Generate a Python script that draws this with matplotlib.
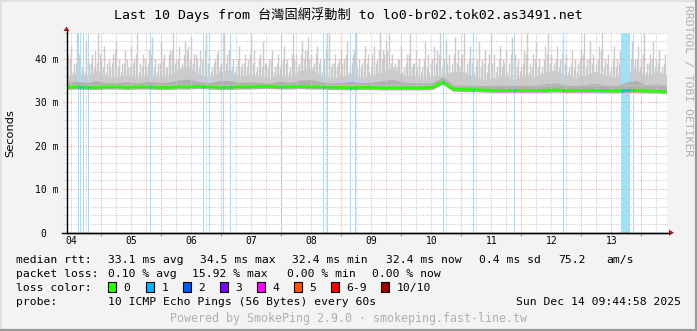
import numpy as np
import matplotlib
matplotlib.use('Agg')
import matplotlib.pyplot as plt
from matplotlib.patches import Rectangle, Polygon
from matplotlib.lines import Line2D

W, H, DPI = 697, 331, 100
MONO = 'DejaVu Sans Mono'

# ---------------- data ----------------
t_start, t_end = 4.42, 14.42          # day of month (Dec), 10 days
day_labels = ['04', '05', '06', '07', '08', '09', '10', '11', '12', '13']
day_label_pos = [4.5, 5.5, 6.5, 7.5, 8.5, 9.5, 10.5, 11.5, 12.5, 13.5]
y_ticks = [0, 10, 20, 30, 40]
y_tick_labels = ['0\u00a0\u00a0', '10 m', '20 m', '30 m', '40 m']

# median rtt (ms), evenly spaced across the window
median_rtt = [33.4, 33.5, 33.4, 33.4, 33.5, 33.5, 33.4, 33.5, 33.5, 33.4,
              33.4, 33.5, 33.5, 33.6, 33.5, 33.4, 33.4, 33.5, 33.5, 33.6,
              33.6, 33.5, 33.5, 33.6, 33.5, 33.5, 33.4, 33.4, 33.3, 33.4,
              33.4, 33.3, 33.3, 33.3, 33.3, 33.3, 33.4, 34.6, 33.0, 32.9,
              32.9, 32.8, 32.7, 32.7, 32.7, 32.7, 32.7, 32.7, 32.8, 32.7,
              32.7, 32.7, 32.7, 32.6, 32.6, 32.7, 32.7, 32.6, 32.5, 32.4]
# darker smoke (inner pings) upper edge
dark_top = [34.5, 34.8, 34.5, 34.9, 34.4, 34.5, 34.7, 34.4, 34.8, 34.5,
            34.6, 35.1, 35.3, 34.7, 34.5, 34.9, 35.0, 34.5, 34.7, 34.5,
            34.4, 34.8, 34.5, 35.1, 35.2, 34.7, 34.4, 34.5, 34.8, 34.4,
            34.6, 34.9, 35.3, 34.6, 34.5, 34.4, 34.5, 35.8, 34.1, 34.0,
            33.9, 33.8, 33.9, 34.0, 33.8, 34.0, 33.9, 34.2, 34.4, 34.0,
            33.8, 34.0, 34.3, 33.9, 33.8, 34.6, 35.0, 34.0, 34.2, 33.9]
# dense light smoke upper edge
body_top = [35.8, 36.8, 36.1, 37.3, 35.5, 35.8, 36.3, 35.5, 36.5, 35.6,
            36.1, 37.5, 38.3, 36.5, 35.8, 36.9, 37.6, 35.8, 36.5, 35.9,
            35.5, 36.5, 35.6, 37.3, 37.7, 36.2, 35.5, 35.9, 36.6, 35.5,
            36.1, 36.9, 38.1, 36.3, 35.9, 35.5, 35.8, 36.3, 37.1, 36.9,
            36.1, 35.2, 35.5, 36.1, 35.3, 36.0, 35.6, 36.8, 37.5, 36.3,
            35.6, 36.1, 37.1, 36.1, 35.6, 36.9, 37.3, 36.1, 37.1, 36.3]
# max ping spikes
spike_top = [41, 43, 39, 46, 40, 38, 44, 39, 41, 42,
             46, 40, 43, 39, 38, 41, 44, 40, 39, 42,
             38, 43, 40, 46, 39, 41, 38, 42, 45, 40,
             39, 44, 41, 38, 42, 46, 40, 43, 39, 44,
             43, 45, 41, 40, 42, 39, 46, 41, 38, 40,
             42, 39, 46, 41, 44, 40, 38, 43, 39, 41,
             40, 46, 42, 38, 41, 44, 39, 40, 42, 38,
             41, 39, 43, 40, 38, 46, 41, 39, 44, 42,
             45, 41, 39, 43, 40, 38, 42, 46, 39, 41,
             39, 42, 40, 44, 38, 41, 46, 40, 39, 43,
             41, 38, 43, 40, 46, 42, 44, 46, 41, 39,
             40, 43, 38, 41, 46, 39, 42, 40, 38, 44,
             41, 39, 43, 42, 46, 40, 44, 41, 39, 45,
             42, 40, 46, 39, 43, 41, 38, 44, 40, 42,
             39, 46, 41, 38, 43, 40, 42, 39, 45, 41,
             40, 38, 42, 46, 39, 41, 44, 40, 38, 43,
             46, 41, 39, 43, 40, 45, 41, 38, 42, 40,
             39, 42, 46, 40, 44, 41, 39, 43, 46, 40,
             41, 38, 43, 40, 42, 39, 46, 41, 44, 40,
             43, 40, 46, 39, 41, 44, 40, 42, 38, 41]
# second-highest ping spikes (between the max spikes)
p9_top = [38, 40, 37, 39, 41, 38, 37, 40, 39, 38,
          39, 41, 38, 37, 40, 39, 42, 38, 37, 39,
          40, 38, 39, 41, 37, 38, 40, 39, 41, 38,
          37, 39, 40, 38, 41, 42, 39, 40, 38, 41,
          42, 40, 39, 41, 38, 40, 42, 39, 37, 39,
          41, 38, 40, 39, 42, 38, 37, 40, 38, 39,
          38, 41, 39, 37, 40, 38, 39, 38, 40, 37,
          39, 38, 40, 39, 37, 41, 40, 38, 41, 40,
          42, 40, 38, 41, 39, 37, 40, 42, 38, 39,
          38, 40, 39, 41, 37, 39, 42, 38, 38, 40,
          39, 37, 41, 39, 42, 40, 41, 42, 39, 38,
          38, 40, 37, 39, 41, 38, 39, 38, 37, 40,
          38, 37, 40, 39, 41, 38, 40, 39, 37, 41,
          39, 38, 41, 37, 40, 39, 37, 40, 38, 39,
          37, 41, 39, 37, 40, 38, 39, 37, 41, 39,
          38, 37, 39, 41, 37, 38, 40, 38, 37, 40,
          41, 39, 37, 40, 38, 41, 39, 37, 39, 38,
          37, 40, 41, 38, 40, 39, 37, 40, 42, 38,
          39, 37, 40, 38, 39, 37, 41, 39, 40, 38,
          40, 38, 41, 37, 39, 40, 38, 39, 37, 39]
# times (day of month) with 1/10 packet loss
loss_times = [4.617, 4.650, 4.700, 4.783, 5.817, 6.707, 6.795, 7.033, 7.150,
              8.000, 8.700, 8.778, 9.150, 9.240, 10.700, 11.200, 11.883, 12.700,
              13.675, 13.692, 13.708, 13.725, 13.742, 13.758, 13.775, 13.792,
              13.808, 13.867]

median_stats = ['33.1 ms avg', '34.5 ms max', '32.4 ms min', '32.4 ms now', '0.4 ms sd', '75.2', 'am/s']
loss_stats = ['0.10 % avg', '15.92 % max', '0.00 % min', '0.00 % now']
loss_labels = ['0', '1', '2', '3', '4', '5', '6-9', '10/10']
loss_colors = ['#26ff00', '#00b8ff', '#0059ff', '#7e00ff', '#ff00ff', '#ff5500', '#ff0000', '#a10000']
title = 'Last 10 Days from 台灣固網浮動制 to lo0-br02.tok02.as3491.net'
probe_text = '10 ICMP Echo Pings (56 Bytes) every 60s'
date_text = 'Sun Dec 14 09:44:58 2025'
footer = 'Powered by SmokePing 2.9.0 \u00b7 smokeping.fast-line.tw'
watermark = 'RRDTOOL / TOBI OETIKER'

# ---------------- figure ----------------
def P(x, y):
    return (x / W, 1 - y / H)

fig = plt.figure(figsize=(W / DPI, H / DPI), dpi=DPI, facecolor='#f3f3f3')
ax_l, ax_r, ax_t, ax_b = 66.5, 666.5, 32.5, 232.7
ax = fig.add_axes([ax_l / W, 1 - ax_b / H, (ax_r - ax_l) / W, (ax_b - ax_t) / H])
ax.set_facecolor('white')
ymax = 46
ax.set_xlim(t_start, t_end)
ax.set_ylim(0, ymax)

n = len(median_rtt)
t_med = np.linspace(t_start, t_end, n)
med = np.array(median_rtt)

LIGHT = '#cbcbcb'
ax.fill_between(t_med, med - 0.3, body_top, color=LIGHT, lw=0, zorder=1)
step = (t_end - t_start) / len(spike_top)
t_sp = t_start + (np.arange(len(spike_top)) + 0.5) * step
ax.vlines(t_sp, np.interp(t_sp, t_med, med), spike_top, color=LIGHT, lw=1.0, zorder=1)
t_p9 = t_start + np.arange(len(p9_top)) * (t_end - t_start) / len(p9_top)
ax.vlines(t_p9, np.interp(t_p9, t_med, med), p9_top, color=LIGHT, lw=1.0, zorder=1)

ax.bar(loss_times, ymax, width=1 / 60, bottom=0, color='#a0e2fc', lw=0, zorder=2)

ax.fill_between(t_med, med - 0.5, dark_top, color='#b0b0b0', lw=0, zorder=3)

# grid
MINC, MAJC = '#cdcdcd', '#e3aaaa'
for y in range(2, ymax + 1, 2):
    c = MAJC if y % 10 == 0 else MINC
    ax.hlines(y, -0.006, 1, transform=ax.get_yaxis_transform(), colors=c,
              lw=0.8, linestyles=(0, (1, 1.2)), zorder=4, clip_on=False)
for d in np.arange(np.ceil(t_start * 4) / 4, t_end, 0.25):
    if abs(d - round(d)) < 1e-6:
        ax.vlines(d, 0, 1, transform=ax.get_xaxis_transform(), colors=MAJC,
                  lw=0.8, linestyles=(0, (1, 1.2)), zorder=4)
        ax.vlines(d, -0.018, 0, transform=ax.get_xaxis_transform(), colors='#d08888',
                  lw=0.8, zorder=4, clip_on=False)
    else:
        ax.vlines(d, 0, 1, transform=ax.get_xaxis_transform(), colors=MINC,
                  lw=0.8, linestyles=(0, (1, 1.2)), zorder=4)

ax.plot(t_med, med, color='#26ff00', lw=2.0, zorder=5, solid_capstyle='butt')
lm = np.interp(loss_times, t_med, med)
for tl, ml in zip(loss_times, lm):
    ax.plot([tl - 0.008, tl + 0.008], [ml, ml], color='#00b8ff', lw=2.0, zorder=6,
            solid_capstyle='butt')

for s in ['top', 'right']:
    ax.spines[s].set_visible(False)
for s in ['left', 'bottom']:
    ax.spines[s].set_color('black')
    ax.spines[s].set_linewidth(1.0)
    ax.spines[s].set_zorder(7)

ax.set_xticks([])
ax.set_yticks(y_ticks)
ax.set_yticklabels(y_tick_labels, fontsize=7, family=MONO)
ax.tick_params(axis='y', length=0, pad=5.5)
for d, lab in zip(day_label_pos, day_labels):
    ax.text(d, -0.042, lab, transform=ax.get_xaxis_transform(), ha='center', va='center',
            fontsize=7, family=MONO)

# axis extensions and arrows
fig.add_artist(Line2D([P(66.5, 0)[0]] * 2, [P(0, 31)[1], P(0, 33)[1]], color='black', lw=1.0))
fig.add_artist(Line2D([P(62, 0)[0], P(669, 0)[0]], [P(0, ax_b)[1]] * 2, color='black', lw=1.0))
fig.add_artist(Polygon([P(63.5, 31), P(69.5, 31), P(66.5, 26.5)], closed=True,
                       transform=fig.transFigure, color='#9a1c1c', lw=0))
fig.add_artist(Polygon([P(669, 229.7), P(669, 235.7), P(674, 232.7)], closed=True,
                       transform=fig.transFigure, color='#9a1c1c', lw=0))

# texts
fig.text(*P(348.5, 19.5), title, ha='center', va='baseline', fontsize=9.5,
         family=[MONO, 'Noto Sans CJK TC'])
fig.text(*P(10.5, 133), 'Seconds', rotation=90, ha='center', va='center', fontsize=8.2,
         family='DejaVu Sans')
fig.text(*P(688, 5), watermark, rotation=-90, ha='center', va='top', fontsize=8.2,
         family=MONO, color='#b0b0b0')

LF = 8.2
def legend_text(x, y, s, **kw):
    fig.text(*P(x, y), s, ha='left', va='baseline', fontsize=LF, family=MONO, **kw)

y1, y2, y3, y4 = 263, 277, 291, 305
legend_text(16.4, y1, 'median rtt:')
for x, s in zip([107.6, 200, 292.4, 385.8, 479, 557.8, 606.7], median_stats):
    legend_text(x, y1, s)
legend_text(16.4, y2, 'packet loss:')
for x, s in zip([107.6, 192, 286.7, 372.4], loss_stats):
    legend_text(x, y2, s)
legend_text(16.4, y3, 'loss color:')
box_x = [108, 145.8, 182.7, 219.6, 256.9, 294.2, 331.1, 381.3]
for bx, lab, col in zip(box_x, loss_labels, loss_colors):
    x0, y0 = P(bx, y3 + 1)
    fig.add_artist(Rectangle((x0, y0), 8 / W, 10 / H, transform=fig.transFigure,
                             facecolor=col, edgecolor='black', lw=0.8))
    legend_text(bx + 15.5, y3, lab)
legend_text(16.4, y4, 'probe:')
legend_text(107.6, y4, probe_text)
fig.text(*P(681, y4), date_text, ha='right', va='baseline', fontsize=LF, family=MONO)
fig.text(*P(348.5, 322), footer, ha='center', va='baseline', fontsize=8.4, family=MONO,
         color='#b0b0b0')

# 3D border
fig.add_artist(Line2D([P(0, 0)[0], P(697, 0)[0]], [P(0, 0.5)[1]] * 2, color='#e0e0e0', lw=1.4))
fig.add_artist(Line2D([P(0.5, 0)[0]] * 2, [P(0, 0)[1], P(0, 331)[1]], color='#e0e0e0', lw=1.4))
fig.add_artist(Line2D([P(0, 0)[0], P(697, 0)[0]], [P(0, 330)[1]] * 2, color='#9a9a9a', lw=1.6))
fig.add_artist(Line2D([P(696, 0)[0]] * 2, [P(0, 0)[1], P(0, 331)[1]], color='#9a9a9a', lw=1.6))

fig.savefig('out.png', dpi=DPI, facecolor=fig.get_facecolor())
